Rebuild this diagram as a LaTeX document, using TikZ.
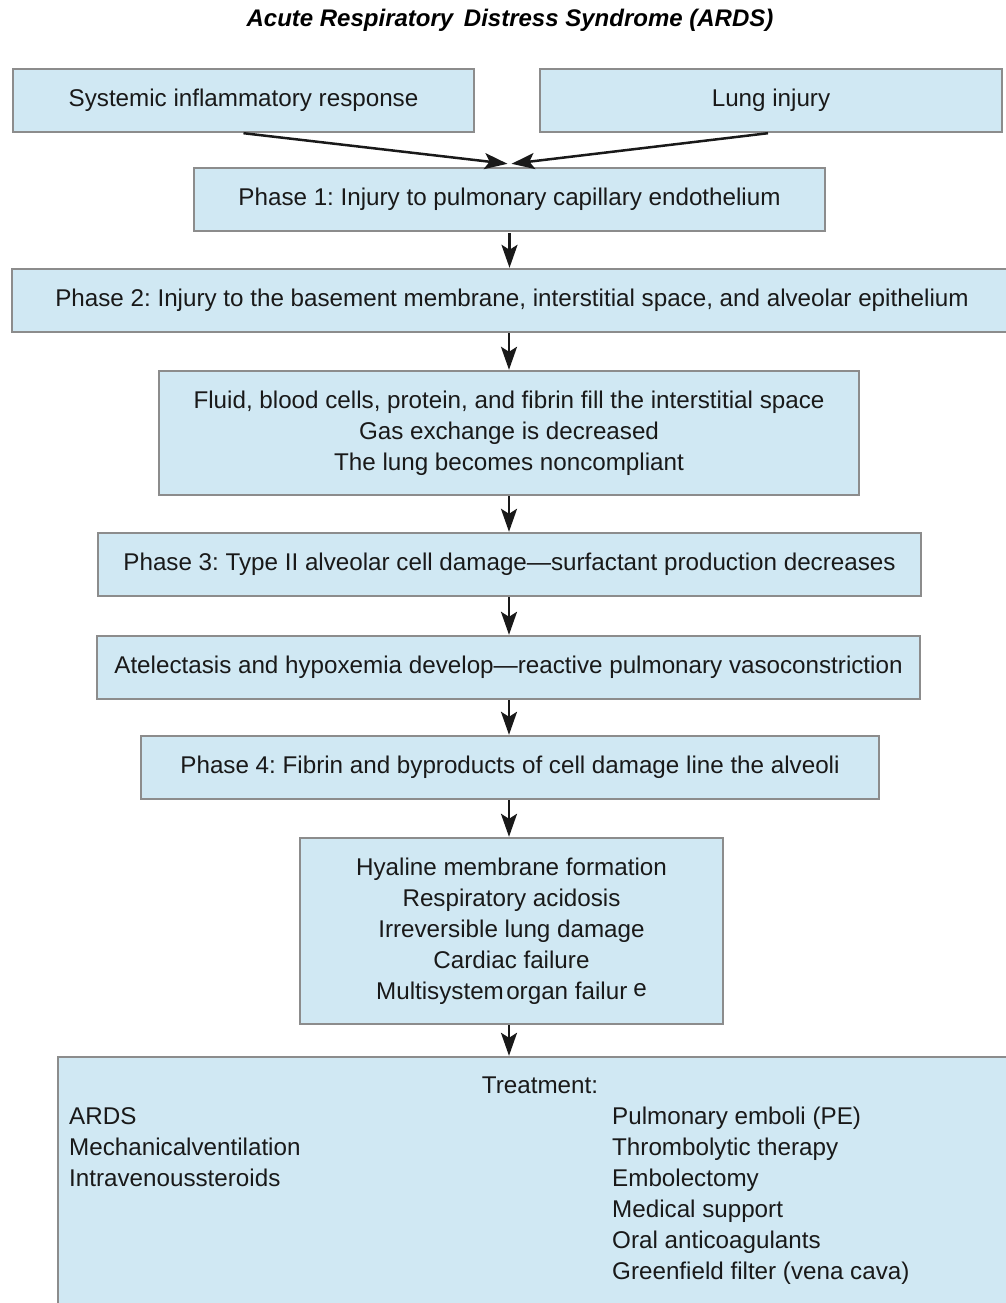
\documentclass[tikz,border=0pt]{standalone}
\usepackage{fontspec}
\setmainfont{Liberation Sans}
\usetikzlibrary{arrows.meta}
\definecolor{boxfill}{HTML}{D0E8F3}
\definecolor{boxline}{HTML}{8C8C8C}
\frenchspacing
\tikzset{
  stage/.style={draw=boxline, line width=2.4pt, fill=boxfill, inner sep=0pt,
    align=center, font=\fontsize{24.2}{31}\selectfont, text=black!90},
  plain/.style={inner sep=0pt, font=\fontsize{24.2}{31}\selectfont, text=black!90},
  flow/.style={line width=2.5pt, black!90, -{Stealth[length=23pt,width=16pt,inset=5pt]}}
}
\begin{document}
\begin{tikzpicture}[x=1pt,y=-1pt]
\useasboundingbox (0,0) rectangle (1006,1303);
% title
\node[inner sep=0pt, font=\fontsize{24}{28}\selectfont\bfseries\itshape] (title) at (510,20)
  {Acute Respiratory\, Distress Syndrome (ARDS)};
% inputs
\node[stage, minimum width=461pt, minimum height=63pt] (sir) at (243.5,100.5) {Systemic inflammatory response};
\node[stage, minimum width=462pt, minimum height=63pt] (lung) at (771,100.5) {Lung injury};
% phases
\node[stage, minimum width=631pt, minimum height=63pt] (p1) at (509.5,199.5) {Phase 1: Injury to pulmonary capillary endothelium};
\node[stage, minimum width=1000pt, minimum height=63pt] (p2) at (512,300.5) {Phase 2: Injury to the basement membrane, interstitial space, and alveolar epithelium};
\node[stage, minimum width=700pt, minimum height=124pt] (fluid) at (509,433)
  {Fluid, blood cells, protein, and fibrin fill the interstitial space\\Gas exchange is decreased\\The lung becomes noncompliant};
\node[stage, minimum width=823pt, minimum height=63pt] (p3) at (509.5,564.5) {Phase 3: Type II alveolar cell damage---surfactant production decreases};
\node[stage, minimum width=823pt, minimum height=63pt] (atel) at (508.5,667.5) {Atelectasis and hypoxemia develop---reactive pulmonary vasoconstriction};
\node[stage, minimum width=738pt, minimum height=63pt] (p4) at (510,767.5) {Phase 4: Fibrin and byproducts of cell damage line the alveoli};
\node[stage, minimum width=423pt, minimum height=186pt] (hyal) at (511.5,931)
  {Hyaline membrane formation\\Respiratory acidosis\\Irreversible lung damage\\Cardiac failure\\Multisystem\hspace{0.1em}organ failur\hspace{0.25em}\raisebox{3pt}{e}};
% treatment
\node[stage, minimum width=970pt, minimum height=270pt] (treat) at (543,1192) {};
\node[plain] (thead) at (540,1085) {Treatment:};
\node[plain, anchor=west, align=left] (tleft) at (69,1147)
  {ARDS\\Mechanicalventilation\\Intravenoussteroids};
\node[plain, anchor=west, align=left] (tright) at (612,1196)
  {Pulmonary emboli (PE)\\Thrombolytic therapy\\Embolectomy\\Medical support\\Oral anticoagulants\\Greenfield filter (vena cava)};
% connectors
\draw[flow] (sir.south) -- ([xshift=-2pt,yshift=3pt]p1.north);
\draw[flow] ([xshift=-3pt]lung.south) -- ([xshift=2pt,yshift=3pt]p1.north);
\draw[flow] ([yshift=-1pt]p1.south) -- (p2.north -| p1.south);
\draw[flow] (p2.south -| fluid.north) -- (fluid.north);
\draw[flow] (fluid.south) -- (p3.north -| fluid.south);
\draw[flow] (p3.south -| fluid.south) -- (atel.north -| fluid.south);
\draw[flow] (atel.south -| fluid.south) -- (p4.north -| fluid.south);
\draw[flow] (p4.south -| fluid.south) -- (hyal.north -| fluid.south);
\draw[flow] (hyal.south -| fluid.south) -- (treat.north -| fluid.south);
\end{tikzpicture}
\end{document}
